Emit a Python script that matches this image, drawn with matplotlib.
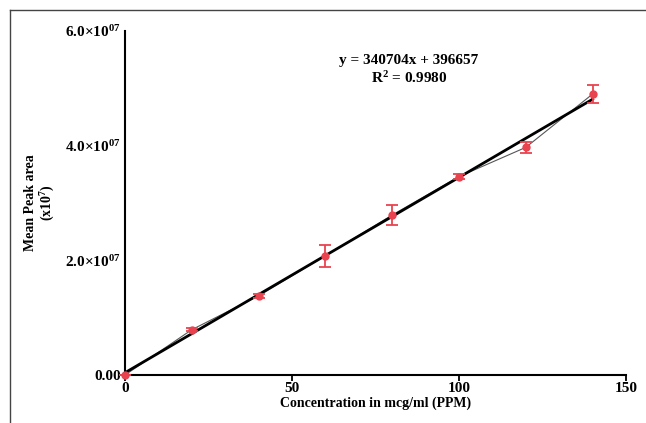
import numpy as np
import matplotlib
matplotlib.use("Agg")
import matplotlib.pyplot as plt
from matplotlib.lines import Line2D

# concentration (ppm) vs mean peak area
conc = [0, 20, 40, 60, 80, 100, 120, 140]
area = [0.0, 0.79e7, 1.38e7, 2.08e7, 2.79e7, 3.46e7, 3.97e7, 4.90e7]
err = [0.0, 0.03e7, 0.03e7, 0.19e7, 0.17e7, 0.05e7, 0.10e7, 0.16e7]
slope = 340704
intercept = 396657
r2 = 0.9980

yticks = [0, 2e7, 4e7, 6e7]
ylabels = ["0.00", r"2.0$\times$10$^{07}$", r"4.0$\times$10$^{07}$", r"6.0$\times$10$^{07}$"]
xticks = [0, 50, 100, 150]

plt.rcParams['font.family'] = ['Liberation Serif', 'DejaVu Serif']
plt.rcParams['mathtext.fontset'] = 'custom'
plt.rcParams['mathtext.rm'] = 'Liberation Serif:bold'
plt.rcParams['mathtext.it'] = 'Liberation Serif:bold'

fig = plt.figure(figsize=(6.46, 4.23), dpi=100)
ax = fig.add_axes([0.1935, 0.1135, 0.7755, 0.8132])

red = '#e8434f'
# connecting line between means
ax.plot(conc, area, color='#555555', lw=0.8, zorder=2)
# regression line
xf = np.array([conc[0], conc[-1]])
ax.plot(xf, slope * xf + intercept, color='black', lw=2.0, zorder=3)
ax.errorbar(conc, area, yerr=err, fmt='o', color=red, ms=5, capsize=4,
            elinewidth=1.3, capthick=1.3, zorder=4, clip_on=False)

ax.set_xlim(0, 150)
ax.set_ylim(0, 6e7)
ax.set_xticks(xticks)
ax.set_xticklabels([str(t) for t in xticks], fontweight='bold', fontsize=11)
ax.set_yticks(yticks)
ax.set_yticklabels(ylabels, fontweight='bold', fontsize=11)
ax.tick_params(axis='x', length=4, width=1.3, pad=1)
ax.tick_params(axis='y', length=0, pad=3)
for s in ['top', 'right']:
    ax.spines[s].set_visible(False)
for s in ['left', 'bottom']:
    ax.spines[s].set_linewidth(1.5)

ax.set_xlabel("Concentration in mcg/ml (PPM)", fontweight='bold', fontsize=10, labelpad=1)
ax.set_ylabel("Mean Peak area\n" + r"(x10$^{7}$)", fontsize=10, fontweight='bold',
              labelpad=6, linespacing=1.1)

ax.text(85, 5.42e7, "y = %dx + %d" % (slope, intercept), fontweight='bold',
        fontsize=11, ha='center')
ax.text(85, 5.1e7, r"R$^{2}$ = %.4f" % r2, fontweight='bold', fontsize=11, ha='center')

# partial outer frame
fig.add_artist(Line2D([10 / 646, 10 / 646], [0, 1 - 10 / 423], color='#444444', lw=1))
fig.add_artist(Line2D([10 / 646, 1], [1 - 10 / 423, 1 - 10 / 423], color='#444444', lw=1))

fig.savefig("out.png", dpi=100)
